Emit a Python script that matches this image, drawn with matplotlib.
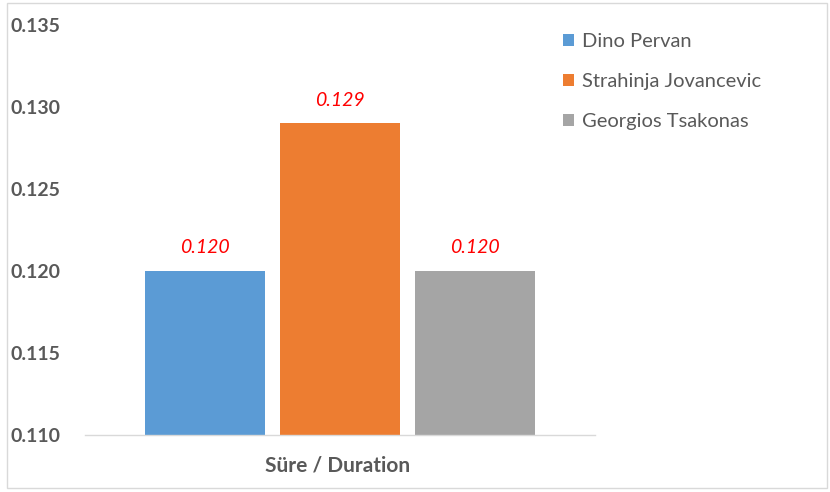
import matplotlib
matplotlib.use("Agg")
import matplotlib.pyplot as plt
from matplotlib.patches import Rectangle

# chart data
names = ["Dino Pervan", "Strahinja Jovancevic", "Georgios Tsakonas"]
values = [0.120, 0.129, 0.120]
labels = ["0.120", "0.129", "0.120"]
colors = ["#5b9bd5", "#ed7d31", "#a5a5a5"]
yticks = [0.110, 0.115, 0.120, 0.125, 0.130, 0.135]
category = "Süre / Duration"

plt.rcParams['font.family'] = ['Lato', 'DejaVu Sans']

fig = plt.figure(figsize=(8.3, 4.92), dpi=100)
W, H = 830, 492
ax = fig.add_axes([85 / W, 1 - 435 / H, 510 / W, 410 / H])

# outer frame like the screenshot
fig.patches.append(Rectangle((7 / W, 1 - 488 / H), 820 / W, 485 / H,
                             transform=fig.transFigure, fill=False,
                             edgecolor="#d9d9d9", linewidth=1))

positions = [-1, 0, 1]
bars = []
for x, v, c, n, lab in zip(positions, values, colors, names, labels):
    b = ax.bar(x, v - 0.110, bottom=0.110, width=0.89, color=c, label=n)
    bars.append(b)
    ax.text(x, v + 0.0009, lab, ha="center", va="bottom", color="#ff0000",
            fontsize=14, fontstyle="italic")

ax.set_ylim(0.110, 0.135)
ax.set_xlim(-1.89, 1.89)
ax.set_yticks(yticks)
ax.set_yticklabels(["%.3f" % t for t in yticks])
ax.set_xticks([])
for lbl in ax.get_yticklabels():
    lbl.set_horizontalalignment("left")
    lbl.set_fontweight("bold")
ax.tick_params(axis="y", length=0, pad=54, labelsize=14, labelcolor="#595959")

for s in ["top", "right", "left"]:
    ax.spines[s].set_visible(False)
ax.spines["bottom"].set_color("#d9d9d9")
ax.spines["bottom"].set_linewidth(1)

fig.text(338 / W, 1 - 466 / H, category, ha="center", va="center",
         fontsize=15, fontweight="bold", color="#595959")

leg = fig.legend(handles=[b[0] for b in bars], labels=names,
                 loc="upper left", bbox_to_anchor=(545 / W, 1 - 15 / H),
                 frameon=False, fontsize=14.5, labelspacing=1.15,
                 handlelength=0.55, handleheight=0.55, handletextpad=0.4)
for t in leg.get_texts():
    t.set_color("#595959")

fig.savefig("out.png", dpi=100)
